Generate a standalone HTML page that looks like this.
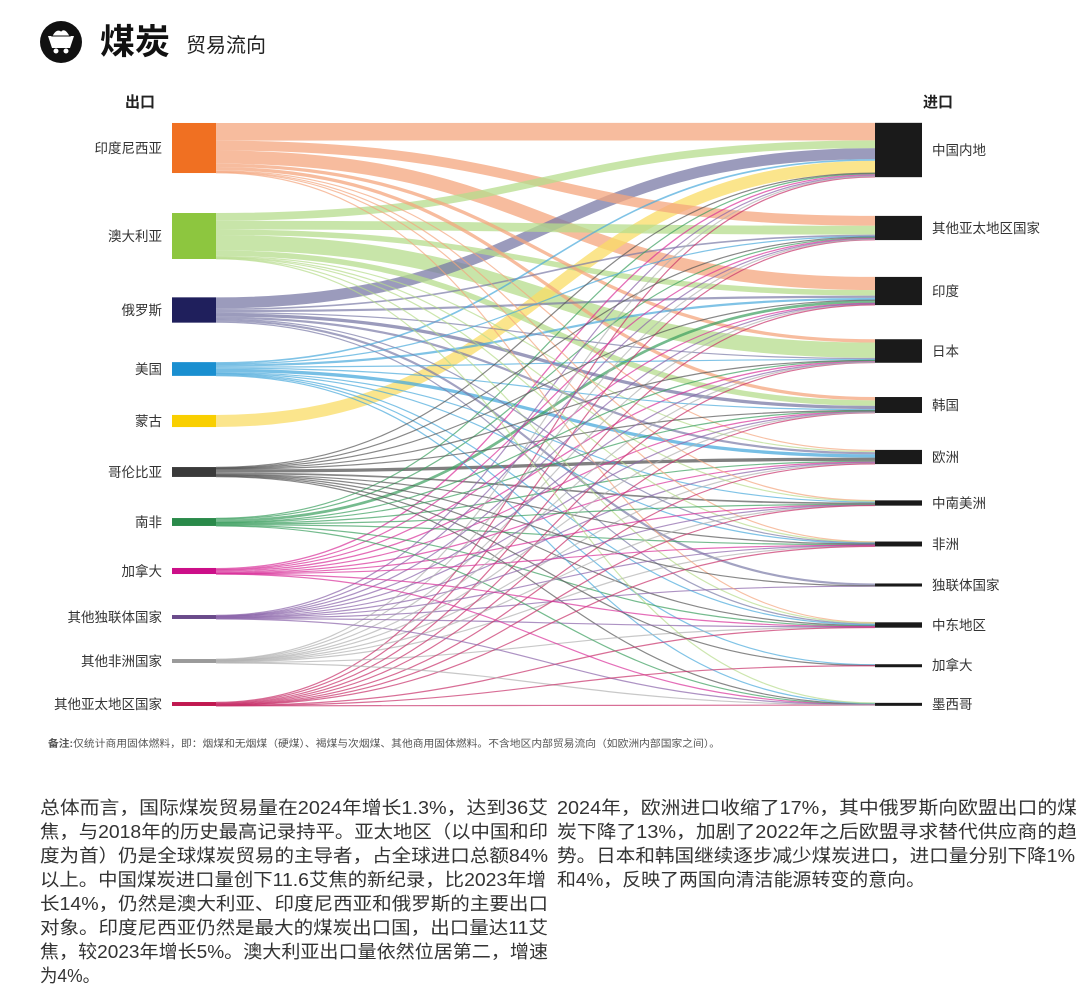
<!DOCTYPE html>
<html><head><meta charset="utf-8">
<style>
html,body{margin:0;padding:0;background:#fff;}
svg{display:block;font-family:"Liberation Sans","Noto Sans CJK SC",sans-serif;}
</style></head>
<body>
<svg id="chart" width="1080" height="1004" viewBox="0 0 1080 1004" xmlns="http://www.w3.org/2000/svg">
  <g>
    <circle cx="61" cy="42" r="21" fill="#111"/>
    <path d="M48 36 L74 36 L70 48 L52 48 Z" fill="#fff"/>
    <circle cx="56" cy="51" r="2.5" fill="#fff"/><circle cx="66" cy="51" r="2.5" fill="#fff"/>
    <path d="M52 36 Q56 28 61 31 Q65 27 70 36 Z" fill="#fff" stroke="#111" stroke-width="1"/>
    <text x="100" y="54" font-size="35" font-weight="bold" fill="#111">煤炭</text>
    <text x="186" y="52" font-size="20" fill="#222">贸易流向</text>
  </g>
  <text x="140" y="107" font-size="15" font-weight="bold" fill="#222" text-anchor="middle">出口</text>
  <text x="938" y="107" font-size="15" font-weight="bold" fill="#222" text-anchor="middle">进口</text>
  <g id="links"></g>
  <g id="nodes"></g>
  <text x="48" y="747" font-size="10" fill="#555" textLength="672" lengthAdjust="spacingAndGlyphs"><tspan font-weight="bold">备注:</tspan>仅统计商用固体燃料，即：烟煤和无烟煤（硬煤）、褐煤与次烟煤、其他商用固体燃料。不含地区内部贸易流向（如欧洲内部国家之间）。</text>
  <g font-size="18" fill="#333">
    <text x="40" y="814" textLength="508" lengthAdjust="spacingAndGlyphs">总体而言，国际煤炭贸易量在2024年增长1.3%，达到36艾</text>
    <text x="40" y="838" textLength="508" lengthAdjust="spacingAndGlyphs">焦，与2018年的历史最高记录持平。亚太地区（以中国和印</text>
    <text x="40" y="862" textLength="508" lengthAdjust="spacingAndGlyphs">度为首）仍是全球煤炭贸易的主导者，占全球进口总额84%</text>
    <text x="40" y="886" textLength="506" lengthAdjust="spacingAndGlyphs">以上。中国煤炭进口量创下11.6艾焦的新纪录，比2023年增</text>
    <text x="40" y="910" textLength="508" lengthAdjust="spacingAndGlyphs">长14%，仍然是澳大利亚、印度尼西亚和俄罗斯的主要出口</text>
    <text x="40" y="934" textLength="508" lengthAdjust="spacingAndGlyphs">对象。印度尼西亚仍然是最大的煤炭出口国，出口量达11艾</text>
    <text x="40" y="958" textLength="508" lengthAdjust="spacingAndGlyphs">焦，较2023年增长5%。澳大利亚出口量依然位居第二，增速</text>
    <text x="40" y="982" textLength="60" lengthAdjust="spacingAndGlyphs">为4%。</text>
  </g>
  <g font-size="18" fill="#333">
    <text x="557" y="814" textLength="520" lengthAdjust="spacingAndGlyphs">2024年，欧洲进口收缩了17%，其中俄罗斯向欧盟出口的煤</text>
    <text x="557" y="838" textLength="520" lengthAdjust="spacingAndGlyphs">炭下降了13%，加剧了2022年之后欧盟寻求替代供应商的趋</text>
    <text x="557" y="862" textLength="518" lengthAdjust="spacingAndGlyphs">势。日本和韩国继续逐步减少煤炭进口，进口量分别下降1%</text>
    <text x="557" y="886" textLength="368" lengthAdjust="spacingAndGlyphs">和4%，反映了两国向清洁能源转变的意向。</text>
  </g>
</svg>
<script>
const exporters = ["印度尼西亚","澳大利亚","俄罗斯","美国","蒙古","哥伦比亚","南非","加拿大","其他独联体国家","其他非洲国家","其他亚太地区国家"];
const importers = ["中国内地","其他亚太地区国家","印度","日本","韩国","欧洲","中南美洲","非洲","独联体国家","中东地区","加拿大","墨西哥"];
// flows from each exporter to importers (same order as importers)
const flowIndonesia = [16,9,12,3,3,1,0.5,0.5,0,0.5,0,0];
const flowAustralia = [7,8,5,14,5,1,0.5,0.5,0,0.5,0,0.3];
const flowRussia = [10,1.5,2,1,3,2,0,0.5,2,1,0,0];
const flowUS = [1.5,0.5,2,1,1,3,1,0.5,0,0.5,1,0.5];
const flowMongolia = [11,0,0,0,0,0,0,0,0,0,0,0];
const flowColombia = [0.5,0.5,0.3,0.3,0.5,3,1.5,0.5,0.2,0.8,0.3,0.6];
const flowSouthAfrica = [0.6,0.8,2.5,0.2,0.4,0.8,0.3,0.8,0,0.6,0,0.2];
const flowCanada = [1.2,0.5,0.5,1.2,0.8,0.6,0.4,0.1,0,0.1,0,0.1];
const flowOtherCIS = [0.6,0.3,0.2,0.2,0.3,0.6,0.2,0.2,0.6,0.3,0,0.1];
const flowOtherAfrica = [0.4,0.3,0.7,0.1,0.1,0.6,0.2,0.7,0,0.4,0,0.1];
const flowOtherAPAC = [0.6,0.6,0.4,0.4,0.4,0.3,0.2,0.2,0,0.2,0.1,0.2];

const flows = [flowIndonesia,flowAustralia,flowRussia,flowUS,flowMongolia,flowColombia,flowSouthAfrica,flowCanada,flowOtherCIS,flowOtherAfrica,flowOtherAPAC];
const nodeColors = ["#f07022","#8dc63f","#1f1f5c","#1a8fd0","#f9cf00","#3a3a3a","#2a8a4a","#cc0f88","#6a4a8a","#9a9a9a","#c01850"];
const linkColors = ["#f4a57e","#b6dc8c","#7a7aa6","#4aa9dc","#f9dc66","#555555","#3a9e5e","#d8309a","#8a64aa","#b0b0b0","#c8306a"];
const leftCenters = [148,236,310,369,421,472,522,571,617,661,704];
const rightCenters = [150,228,291,351,405,457,503,544,585,625,665,704];
const scale = 1.1, LX0 = 172, LX1 = 216, RX0 = 875, RX1 = 922;
const NS = "http://www.w3.org/2000/svg";
const linksG = document.getElementById('links');
const nodesG = document.getElementById('nodes');

const srcTot = flows.map(r => r.reduce((a,b)=>a+b,0));
const tgtTot = importers.map((_,j) => flows.reduce((a,r)=>a+r[j],0));
const srcTop = srcTot.map((t,i) => leftCenters[i] - t*scale/2);
const tgtTop = tgtTot.map((t,j) => rightCenters[j] - t*scale/2);
const tgtOff = tgtTot.map(() => 0);
const linkData = [];
flows.forEach((row,i) => {
  let off = 0;
  row.forEach((v,j) => {
    if (v <= 0) return;
    const h = v*scale;
    const y0 = srcTop[i] + off + h/2;
    off += h;
    linkData.push({i,j,v,h,y0});
  });
});
// target stacking in source order
for (let j=0;j<importers.length;j++){
  linkData.filter(l=>l.j===j).sort((a,b)=>a.i-b.i).forEach(l=>{
    l.y1 = tgtTop[j] + tgtOff[j] + l.h/2;
    tgtOff[j] += l.h;
  });
}
// draw thick first, thin on top
linkData.sort((a,b)=>b.v-a.v).forEach(l=>{
  const p = document.createElementNS(NS,'path');
  const mx = (LX1+RX0)/2;
  p.setAttribute('d',`M${LX1},${l.y0} C${mx},${l.y0} ${mx},${l.y1} ${RX0},${l.y1}`);
  p.setAttribute('fill','none');
  p.setAttribute('stroke',linkColors[l.i]);
  p.setAttribute('stroke-width',Math.max(l.h,1.2));
  p.setAttribute('stroke-opacity', l.h>3 ? 0.75 : 0.7);
  
  
  linksG.appendChild(p);
});
exporters.forEach((name,i)=>{
  const r = document.createElementNS(NS,'rect');
  r.setAttribute('x',LX0); r.setAttribute('y',srcTop[i]);
  r.setAttribute('width',LX1-LX0); r.setAttribute('height',Math.max(srcTot[i]*scale,3));
  r.setAttribute('fill',nodeColors[i]);
  
  
  nodesG.appendChild(r);
  const t = document.createElementNS(NS,'text');
  t.setAttribute('x',162); t.setAttribute('y',leftCenters[i]+5);
  t.setAttribute('text-anchor','end'); t.setAttribute('font-size','13.5'); t.setAttribute('fill','#333');
  t.textContent = name;
  
  
  nodesG.appendChild(t);
});
importers.forEach((name,j)=>{
  const r = document.createElementNS(NS,'rect');
  r.setAttribute('x',RX0); r.setAttribute('y',tgtTop[j]);
  r.setAttribute('width',RX1-RX0); r.setAttribute('height',Math.max(tgtTot[j]*scale,3));
  r.setAttribute('fill','#1a1a1a');
  
  
  nodesG.appendChild(r);
  const t = document.createElementNS(NS,'text');
  t.setAttribute('x',932); t.setAttribute('y',rightCenters[j]+5);
  t.setAttribute('font-size','13.5'); t.setAttribute('fill','#333');
  t.textContent = name;
  
  
  nodesG.appendChild(t);
});
</script>
</body></html>
